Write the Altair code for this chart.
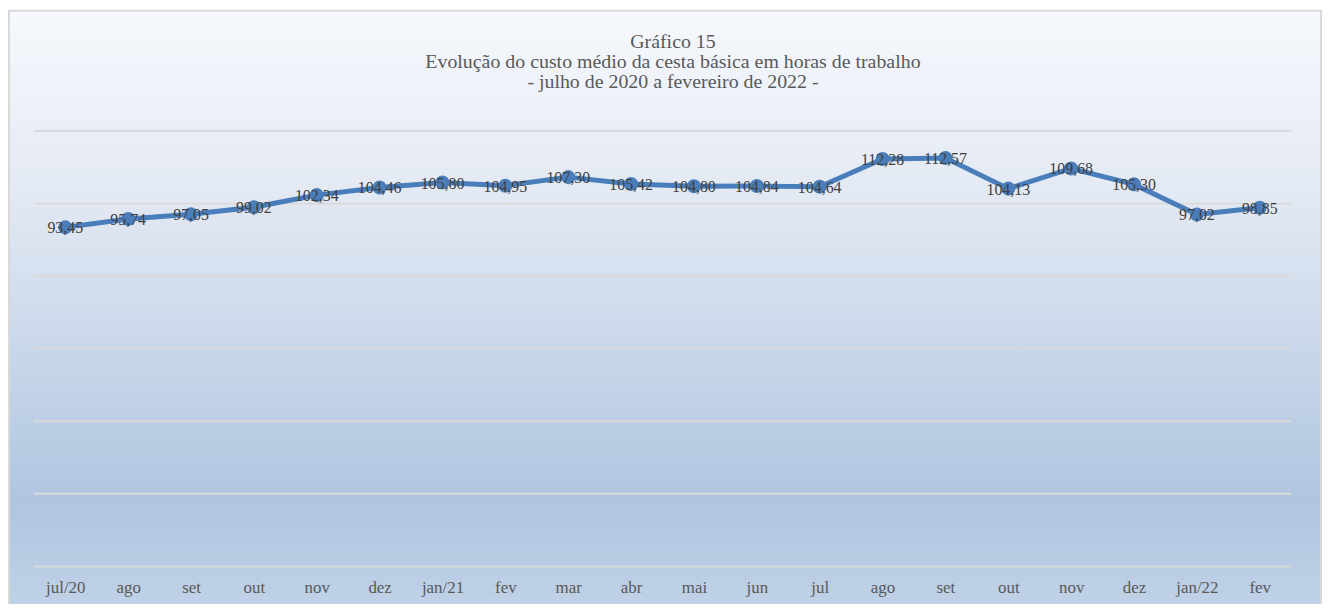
import json
import altair as alt
import pandas as pd

# ---- data ----
month_labels = ["jul/20", "ago", "set", "out", "nov", "dez", "jan/21", "fev", "mar", "abr",
                "mai", "jun", "jul", "ago", "set", "out", "nov", "dez", "jan/22", "fev"]
hours = [93.45, 95.74, 97.05, 99.02, 102.34, 104.46, 105.80, 104.95, 107.30, 105.42,
         104.80, 104.84, 104.64, 112.28, 112.57, 104.13, 109.68, 105.30, 97.02, 98.85]
grid_values = [0, 20, 40, 60, 80, 100, 120]
title_lines = ["Gráfico 15",
               "Evolução do custo médio da cesta básica em horas de trabalho",
               "- julho de 2020 a fevereiro de 2022 -"]

df = pd.DataFrame({
    "pos": list(range(len(month_labels))),
    "valor": hours,
    "rotulo": [f"{v:.2f}".replace(".", ",") for v in hours],
})
grid_df = pd.DataFrame({"g": grid_values})
one_df = pd.DataFrame({"a": [0]})

W, H = 1265, 438
SERIF = "Liberation Serif, Times New Roman, serif"
BLUE = "#4a7ebb"

x_enc = alt.X("pos:O", title=None,
              scale=alt.Scale(paddingOuter=0.5),
              axis=alt.Axis(labelExpr=f"{json.dumps(month_labels)}[datum.value]",
                            labelAngle=0, labelFont=SERIF, labelFontSize=17,
                            labelColor="#595959", labelPadding=13, ticks=False,
                            domain=False, grid=False, zindex=1))
y_scale = alt.Scale(domain=[0, 120], nice=False, zero=True)

background = alt.Chart(one_df).mark_rect(
    fill=alt.Gradient(
        gradient="linear", x1=0, x2=0, y1=0, y2=1,
        stops=[
            alt.GradientStop(color="#f6f9fd", offset=0),
            alt.GradientStop(color="#e3e9f3", offset=0.3),
            alt.GradientStop(color="#c9d7ea", offset=0.55),
            alt.GradientStop(color="#afc5e0", offset=0.8),
            alt.GradientStop(color="#c3d4e8", offset=1),
        ],
    ),
    stroke="#d9d9d9", strokeWidth=2,
).encode(x=alt.value(-25), x2=alt.value(W + 30), y=alt.value(-121), y2=alt.value(H + 60))

title = alt.Chart(one_df).mark_text(
    font=SERIF, fontSize=20, color="#595959", align="center",
    baseline="middle", lineHeight=20.5,
).encode(x=alt.value(643), y=alt.value(-90), text=alt.value(title_lines))

grid = alt.Chart(grid_df).mark_rule(color="#d9d9d9", strokeWidth=2).encode(
    y=alt.Y("g:Q", scale=y_scale, axis=None)
)

base = alt.Chart(df).encode(
    x=x_enc,
    y=alt.Y("valor:Q", scale=y_scale, axis=None),
)
line = base.mark_line(color=BLUE, strokeWidth=5)
points = base.mark_circle(color=BLUE, size=200, opacity=1)
labels = base.mark_text(font=SERIF, fontSize=16, color="#404040",
                        baseline="middle", dy=1).encode(text="rotulo:N")

chart = alt.layer(background, title, grid, line, points, labels).properties(
    width=W, height=H,
    autosize=alt.AutoSizeParams(type="none"),
    padding={"left": 26, "top": 122, "right": 34, "bottom": 36},
).configure_view(stroke=None)

chart.save("out.html", embed_options={"renderer": "svg", "actions": False})
